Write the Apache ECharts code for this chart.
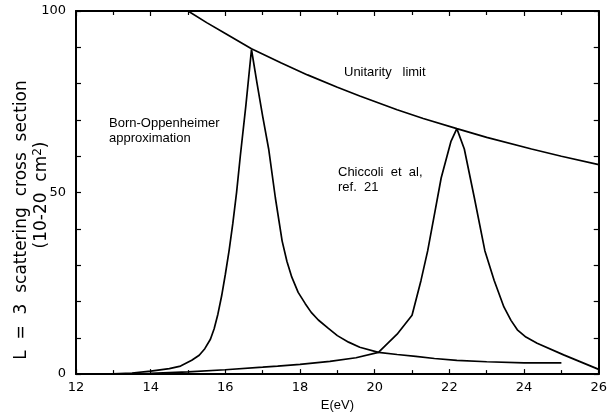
<!DOCTYPE html>
<html>
<head>
<meta charset="utf-8">
<script src="https://cdn.jsdelivr.net/npm/echarts@6/dist/echarts.min.js"></script>
<style>html,body{margin:0;padding:0;background:#fff}#c{width:610px;height:417px}</style>
</head>
<body>
<div id="c"></div>
<script>
// X ticks / y ticks
const xTicks = [12, 14, 16, 18, 20, 22, 24, 26];
const yTicks = [0, 50, 100];

// Unitarity limit
const unitE = [15, 15.5, 16, 16.7, 17.5, 18.2, 19, 19.6, 20.6, 21.3, 22.2, 23, 24.2, 25, 26];
const unitY = [100, 96.8, 93.8, 89.6, 85.7, 82.4, 79, 76.6, 72.8, 70.4, 67.6, 65.2, 62, 60, 57.7];

// Born-Oppenheimer approximation
const boE = [12.8, 13.5, 14, 14.5, 14.8, 15.1, 15.3, 15.45, 15.6, 15.7, 15.8, 15.9, 16.0, 16.1, 16.2, 16.3, 16.4, 16.55, 16.7, 16.85, 17.0, 17.16, 17.34, 17.52, 17.65, 17.78, 17.95, 18.14, 18.3, 18.49, 18.76, 19.0, 19.3, 19.6, 20.1, 20.6, 21.1, 21.6, 22.2, 23.0, 24.0, 25.0];
const boY = [0, 0.3, 0.8, 1.5, 2.2, 3.8, 5.2, 7, 9.6, 12.5, 16.5, 21.5, 27.5, 34, 41.5, 50, 60, 74, 89.4, 80, 71, 62, 48.5, 36.7, 31, 26.7, 22.5, 19.4, 17, 14.9, 12.6, 10.6, 8.8, 7.4, 6.0, 5.4, 4.9, 4.3, 3.8, 3.4, 3.1, 3.1];

// Chiccoli et al, ref. 21
const chE = [13.3, 14, 15, 16, 17, 17.4, 18, 18.8, 19.5, 20.1, 20.6, 21.0, 21.24, 21.42, 21.6, 21.78, 22.04, 22.2, 22.4, 22.67, 22.95, 23.2, 23.46, 23.65, 23.82, 24.05, 24.35, 25.06, 26];
const chY = [0, 0.2, 0.6, 1.2, 1.9, 2.2, 2.7, 3.5, 4.5, 6, 11, 16.2, 25.8, 34, 44, 54, 64, 67.6, 62, 48.5, 34, 25.8, 18.5, 14.8, 12.2, 10.2, 8.5, 5.3, 1.3];

const pairs = (xs, ys) => xs.map((x, i) => [x, ys[i]]);

const chart = echarts.init(document.getElementById('c'), null, {renderer: 'canvas'});
const tickFont = 'DejaVu Sans';
const axisLineStyle = {color: '#000', width: 2};

const baseX = {
  type: 'value', min: xTicks[0], max: xTicks[xTicks.length - 1], interval: 2,
  axisLine: {show: true, onZero: false, lineStyle: axisLineStyle},
  axisTick: {show: true, inside: true, length: 5, lineStyle: {color: '#000', width: 1.2}},
  minorTick: {show: true, splitNumber: 2, length: 4, lineStyle: {color: '#000', width: 1.2}},
  splitLine: {show: false}
};
const baseY = {
  type: 'value', min: yTicks[0], max: yTicks[yTicks.length - 1], interval: 50,
  axisLine: {show: true, onZero: false, lineStyle: axisLineStyle},
  axisTick: {show: true, inside: true, length: 5, lineStyle: {color: '#000', width: 1.2}},
  minorTick: {show: true, splitNumber: 5, length: 5, lineStyle: {color: '#000', width: 1.2}},
  splitLine: {show: false}
};

const lineSeries = (name, data) => ({
  name, type: 'line', data, showSymbol: false, symbol: 'none', smooth: false,
  lineStyle: {color: '#000', width: 1.7}, animation: false, xAxisIndex: 0, yAxisIndex: 0
});

chart.setOption({
  animation: false,
  backgroundColor: '#fff',
  grid: {left: 76, right: 8, top: 11, bottom: 39, containLabel: false},
  xAxis: [
    Object.assign({}, baseX, {
      position: 'bottom',
      axisLabel: {show: true, color: '#000', fontFamily: tickFont, fontSize: 13, margin: 7},
      name: 'E(eV)', nameLocation: 'middle', nameGap: 24,
      nameTextStyle: {color: '#000', fontFamily: 'Liberation Sans', fontSize: 13}
    }),
    Object.assign({}, baseX, {position: 'top', axisLabel: {show: false}})
  ],
  yAxis: [
    Object.assign({}, baseY, {
      position: 'left',
      axisLabel: {show: true, color: '#000', fontFamily: tickFont, fontSize: 13, margin: 10}
    }),
    Object.assign({}, baseY, {position: 'right', axisLabel: {show: false}})
  ],
  series: [
    lineSeries('Unitarity limit', pairs(unitE, unitY)),
    lineSeries('Born-Oppenheimer approximation', pairs(boE, boY)),
    lineSeries('Chiccoli et al, ref. 21', pairs(chE, chY))
  ],
  graphic: [
    {type: 'text', x: 22, y: 220, rotation: Math.PI / 2,
     style: {text: 'L  =  3  scattering  cross  section', fontFamily: 'DejaVu Sans', fontSize: 17,
             fill: '#000', align: 'center', verticalAlign: 'middle'}},
    {type: 'text', x: 42, y: 195, rotation: Math.PI / 2,
     style: {text: '(10-20  cm{sup|2})', fontFamily: 'DejaVu Sans', fontSize: 17,
             fill: '#000', align: 'center', verticalAlign: 'middle',
             rich: {sup: {fontSize: 12, verticalAlign: 'top', padding: [0, 0, 8, 0], fontFamily: 'DejaVu Sans', fill: '#000'}}}},
    {type: 'text', x: 344, y: 72,
     style: {text: 'Unitarity   limit', fontFamily: 'Liberation Sans', fontSize: 13, fill: '#000', align: 'left', verticalAlign: 'middle'}},
    {type: 'text', x: 109, y: 123,
     style: {text: 'Born-Oppenheimer', fontFamily: 'Liberation Sans', fontSize: 13, fill: '#000', align: 'left', verticalAlign: 'middle'}},
    {type: 'text', x: 109, y: 138,
     style: {text: 'approximation', fontFamily: 'Liberation Sans', fontSize: 13, fill: '#000', align: 'left', verticalAlign: 'middle'}},
    {type: 'text', x: 338, y: 172,
     style: {text: 'Chiccoli  et  al,', fontFamily: 'Liberation Sans', fontSize: 13, fill: '#000', align: 'left', verticalAlign: 'middle'}},
    {type: 'text', x: 338, y: 187,
     style: {text: 'ref.  21', fontFamily: 'Liberation Sans', fontSize: 13, fill: '#000', align: 'left', verticalAlign: 'middle'}}
  ]
});
</script>
</body>
</html>
